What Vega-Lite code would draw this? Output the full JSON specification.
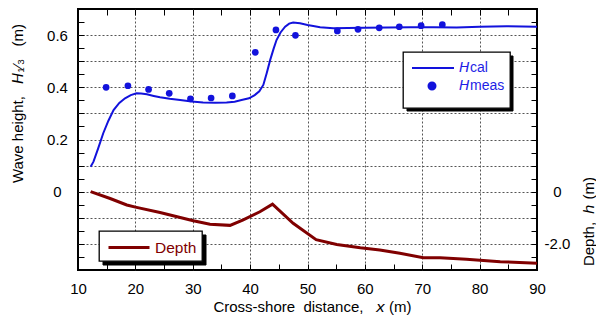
{
  "$schema": "https://vega.github.io/schema/vega-lite/v6.json",
  "width": 459,
  "height": 261,
  "autosize": {"type": "none"},
  "padding": {"left": 78, "top": 9, "right": 59, "bottom": 59},
  "background": "white",
  "config": {
    "font": "Liberation Sans",
    "view": {"stroke": "black", "strokeWidth": 2},
    "axis": {
      "domain": false,
      "labelFont": "Liberation Sans",
      "labelFontSize": 15,
      "labelColor": "black",
      "titleFont": "Liberation Sans",
      "titleFontSize": 15,
      "titleFontWeight": "normal",
      "titleColor": "black",
      "titleBaseline": "middle",
      "tickColor": "black",
      "tickWidth": 1,
      "tickSize": -6,
      "gridColor": "#555555",
      "gridDash": [2, 2],
      "gridWidth": 1,
      "labelOverlap": false,
      "labelFlush": false,
      "labelBound": false
    },
    "legend": {
      "titleFontSize": 6,
      "titlePadding": 2.5,
      "padding": 5,
      "rowPadding": 0,
      "symbolSize": 400,
      "symbolStrokeWidth": 2,
      "labelFont": "Liberation Sans"
    }
  },
  "datasets": {
    "hcal": [
      {"x": 12.2, "H": 0.096}, {"x": 12.7, "H": 0.115}, {"x": 13.5, "H": 0.165},
      {"x": 14.4, "H": 0.224}, {"x": 15.3, "H": 0.272}, {"x": 16.2, "H": 0.313},
      {"x": 17.2, "H": 0.340}, {"x": 18.2, "H": 0.358}, {"x": 19.2, "H": 0.370},
      {"x": 20.2, "H": 0.377}, {"x": 21.0, "H": 0.376}, {"x": 22.0, "H": 0.373},
      {"x": 23.2, "H": 0.367}, {"x": 24.3, "H": 0.362}, {"x": 26.0, "H": 0.356},
      {"x": 27.8, "H": 0.351}, {"x": 29.8, "H": 0.346}, {"x": 31.8, "H": 0.342},
      {"x": 33.9, "H": 0.341}, {"x": 35.9, "H": 0.342}, {"x": 37.3, "H": 0.345},
      {"x": 38.5, "H": 0.351}, {"x": 39.8, "H": 0.358}, {"x": 40.8, "H": 0.370},
      {"x": 41.6, "H": 0.385}, {"x": 42.3, "H": 0.409}, {"x": 42.9, "H": 0.455},
      {"x": 43.5, "H": 0.505}, {"x": 44.1, "H": 0.548}, {"x": 44.6, "H": 0.581},
      {"x": 45.3, "H": 0.610}, {"x": 46.1, "H": 0.632}, {"x": 46.8, "H": 0.644},
      {"x": 47.5, "H": 0.648}, {"x": 48.7, "H": 0.645}, {"x": 50.0, "H": 0.639},
      {"x": 51.0, "H": 0.635}, {"x": 52.2, "H": 0.630}, {"x": 54.5, "H": 0.626},
      {"x": 57.0, "H": 0.627}, {"x": 60.0, "H": 0.628}, {"x": 64.0, "H": 0.629},
      {"x": 68.0, "H": 0.630}, {"x": 72.0, "H": 0.630}, {"x": 76.0, "H": 0.629},
      {"x": 80.0, "H": 0.632}, {"x": 84.7, "H": 0.634}, {"x": 90.0, "H": 0.632}
    ],
    "hmeas": [
      {"x": 14.9, "H": 0.400}, {"x": 18.7, "H": 0.406}, {"x": 22.3, "H": 0.392},
      {"x": 25.9, "H": 0.377}, {"x": 29.6, "H": 0.356}, {"x": 33.2, "H": 0.359},
      {"x": 36.9, "H": 0.367}, {"x": 40.9, "H": 0.534}, {"x": 44.5, "H": 0.620},
      {"x": 47.9, "H": 0.599}, {"x": 55.2, "H": 0.616}, {"x": 58.8, "H": 0.622},
      {"x": 62.5, "H": 0.628}, {"x": 66.0, "H": 0.632}, {"x": 69.8, "H": 0.636},
      {"x": 73.5, "H": 0.640}
    ],
    "depth": [
      {"x": 12.2, "h": 0}, {"x": 15.6, "h": -0.26}, {"x": 18.5, "h": -0.51},
      {"x": 20.2, "h": -0.60}, {"x": 24.3, "h": -0.80}, {"x": 30.1, "h": -1.11},
      {"x": 33.0, "h": -1.25}, {"x": 36.5, "h": -1.29}, {"x": 38.8, "h": -1.08},
      {"x": 41.7, "h": -0.77}, {"x": 43.9, "h": -0.48}, {"x": 47.5, "h": -1.21},
      {"x": 51.5, "h": -1.84}, {"x": 55.1, "h": -2.02}, {"x": 59.2, "h": -2.15},
      {"x": 62.6, "h": -2.23}, {"x": 66.1, "h": -2.36}, {"x": 70.2, "h": -2.53},
      {"x": 73.1, "h": -2.53}, {"x": 77.7, "h": -2.59}, {"x": 83.6, "h": -2.68},
      {"x": 90.0, "h": -2.74}
    ]
  },
  "layer": [
    {
      "encoding": {
        "x": {
          "field": "x", "type": "quantitative",
          "scale": {"domain": [10, 90], "nice": false, "zero": false},
          "axis": {
            "orient": "bottom",
            "values": [10, 15, 20, 25, 30, 35, 40, 45, 50, 55, 60, 65, 70, 75, 80, 85, 90],
            "labelExpr": "datum.value % 10 == 0 ? datum.label : ''",
            "labelPadding": 17,
            "grid": true,
            "gridOpacity": {"condition": {"test": "datum.value % 10 != 0 || datum.value == 10 || datum.value == 90", "value": 0}, "value": 1},
            "title": "Cross-shore\u00a0 distance,\u00a0\u00a0 𝘹 (m)",
            "titleX": 234,
            "titleY": 36
          }
        },
        "y": {
          "field": "H", "type": "quantitative",
          "scale": {"domain": [-0.3, 0.7], "nice": false, "zero": false},
          "axis": {
            "orient": "left",
            "values": [-0.3, -0.25, -0.2, -0.15, -0.1, -0.05, 0, 0.05, 0.1, 0.15, 0.2, 0.25, 0.3, 0.35, 0.4, 0.45, 0.5, 0.55, 0.6, 0.65, 0.7],
            "labelExpr": "datum.value == 0 ? '0' : (datum.value == 0.2 || datum.value == 0.4 || datum.value == 0.6) ? format(datum.value, '.1f') : ''",
            "labelAlign": "center",
            "labelPadding": 27,
            "grid": true,
            "gridOpacity": {"condition": {"test": "round(datum.value * 20) % 2 != 0 || datum.value < -0.29 || datum.value > 0.69", "value": 0}, "value": 1},
            "title": "Wave height,\u00a0\u00a0 𝘏₁⁄₃\u00a0\u00a0 (m)",
            "titleX": -61,
            "titleY": 94
          }
        }
      },
      "layer": [
        {
          "data": {"name": "hcal"},
          "mark": {"type": "line", "strokeWidth": 2},
          "encoding": {
            "color": {
              "datum": "Hcal",
              "scale": {"domain": ["Hcal", "Hmeas"], "range": ["#1212dc", "#1212dc"]},
              "legend": {
                "orient": "none",
                "legendX": 325,
                "legendY": 43,
                "zindex": 2,
                "title": "⠀",
                "titleOrient": "bottom",
                "fillColor": "white",
                "strokeColor": "black",
                "labelOffset": 29,
                "labelFontSize": 14,
                "labelColor": "#1e1ee6",
                "labelExpr": "datum.value == 'Hcal' ? '𝘏cal' : '𝘏meas'",
                "encode": {
                  "legend": {"update": {"strokeWidth": {"value": 1.3}}},
                  "symbols": {
                    "update": {
                      "shape": {"signal": "datum.value == 'Hcal' ? 'M-0.7,0L3.5,0' : 'M0.95,0A0.35,0.35 0 1,1 1.65,0A0.35,0.35 0 1,1 0.95,0Z'"},
                      "fill": {"signal": "datum.value == 'Hcal' ? 'transparent' : '#1212dc'"},
                      "stroke": {"signal": "datum.value == 'Hcal' ? '#1212dc' : 'transparent'"},
                      "strokeWidth": {"value": 2},
                      "size": {"value": 400},
                      "opacity": {"value": 1}
                    }
                  }
                }
              }
            },
            "opacity": {
              "datum": "cal",
              "scale": {"domain": ["cal", "meas"], "range": [1, 1]},
              "legend": {
                "orient": "none",
                "legendX": 328.5,
                "legendY": 46.5,
                "zindex": 1,
                "title": "⠀",
                "titleOrient": "bottom",
                "titleOpacity": 0,
                "fillColor": "black",
                "strokeColor": "black",
                "labelOffset": 73.7,
                "labelFontSize": 14,
                "labelExpr": "''",
                "symbolType": "M0,0",
                "symbolOpacity": 0,
                "encode": {
                  "legend": {"update": {"strokeWidth": {"value": 1.3}}},
                  "symbols": {"update": {"shape": {"value": "M0,0"}, "opacity": {"value": 0}}}
                }
              }
            }
          }
        },
        {
          "data": {"name": "hmeas"},
          "mark": {"type": "point", "filled": true, "size": 45},
          "encoding": {
            "color": {"datum": "Hmeas"},
            "opacity": {"datum": "meas"}
          }
        }
      ]
    },
    {
      "data": {"name": "depth"},
      "mark": {"type": "line", "strokeWidth": 3},
      "encoding": {
        "x": {
          "field": "x", "type": "quantitative",
          "axis": {
            "orient": "top",
            "values": [10, 15, 20, 25, 30, 35, 40, 45, 50, 55, 60, 65, 70, 75, 80, 85, 90],
            "labels": false,
            "grid": false,
            "title": null
          }
        },
        "y": {
          "field": "h", "type": "quantitative",
          "scale": {"domain": [-3, 7], "nice": false, "zero": false},
          "axis": {
            "orient": "right",
            "values": [-3, -2.5, -2, -1.5, -1, -0.5, 0, 0.5, 1, 1.5, 2, 2.5, 3, 3.5, 4, 4.5, 5, 5.5, 6, 6.5, 7],
            "labelExpr": "datum.value == 0 ? '0' : datum.value == -2 ? '-2.0' : ''",
            "labelAlign": "center",
            "labelPadding": 26,
            "grid": false,
            "title": "Depth,\u00a0 𝘩 (m)",
            "titleAngle": 270,
            "titleX": 51,
            "titleY": 212
          }
        },
        "color": {
          "datum": "Depth",
          "scale": {"domain": ["Depth"], "range": ["#800000"]},
          "legend": {
            "orient": "none",
            "legendX": 21,
            "legendY": 222,
            "zindex": 2,
            "title": null,
            "fillColor": "white",
            "strokeColor": "black",
            "symbolStrokeWidth": 3,
            "labelOffset": 28,
            "labelFontSize": 15.5,
            "labelColor": "#800000",
            "encode": {
              "legend": {"update": {"strokeWidth": {"value": 1.3}}},
              "symbols": {
                "update": {
                  "shape": {"value": "M-0.7,0L3.4,0"},
                  "fill": {"value": "transparent"},
                  "stroke": {"value": "#800000"},
                  "strokeWidth": {"value": 3},
                  "opacity": {"value": 1}
                }
              }
            }
          }
        },
        "opacity": {
          "datum": "depth",
          "scale": {"domain": ["depth"], "range": [1]},
          "legend": {
            "orient": "none",
            "legendX": 24.5,
            "legendY": 225.5,
            "zindex": 1,
            "title": null,
            "fillColor": "black",
            "strokeColor": "black",
            "symbolStrokeWidth": 3,
            "labelOffset": 69.4,
            "labelFontSize": 15.5,
            "labelExpr": "''",
            "symbolType": "M0,0",
            "symbolOpacity": 0,
            "encode": {
              "legend": {"update": {"strokeWidth": {"value": 1.3}}},
              "symbols": {"update": {"shape": {"value": "M0,0"}, "opacity": {"value": 0}}}
            }
          }
        }
      }
    }
  ],
  "resolve": {
    "scale": {"y": "independent", "color": "independent", "opacity": "independent"},
    "axis": {"x": "independent", "y": "independent"}
  }
}
